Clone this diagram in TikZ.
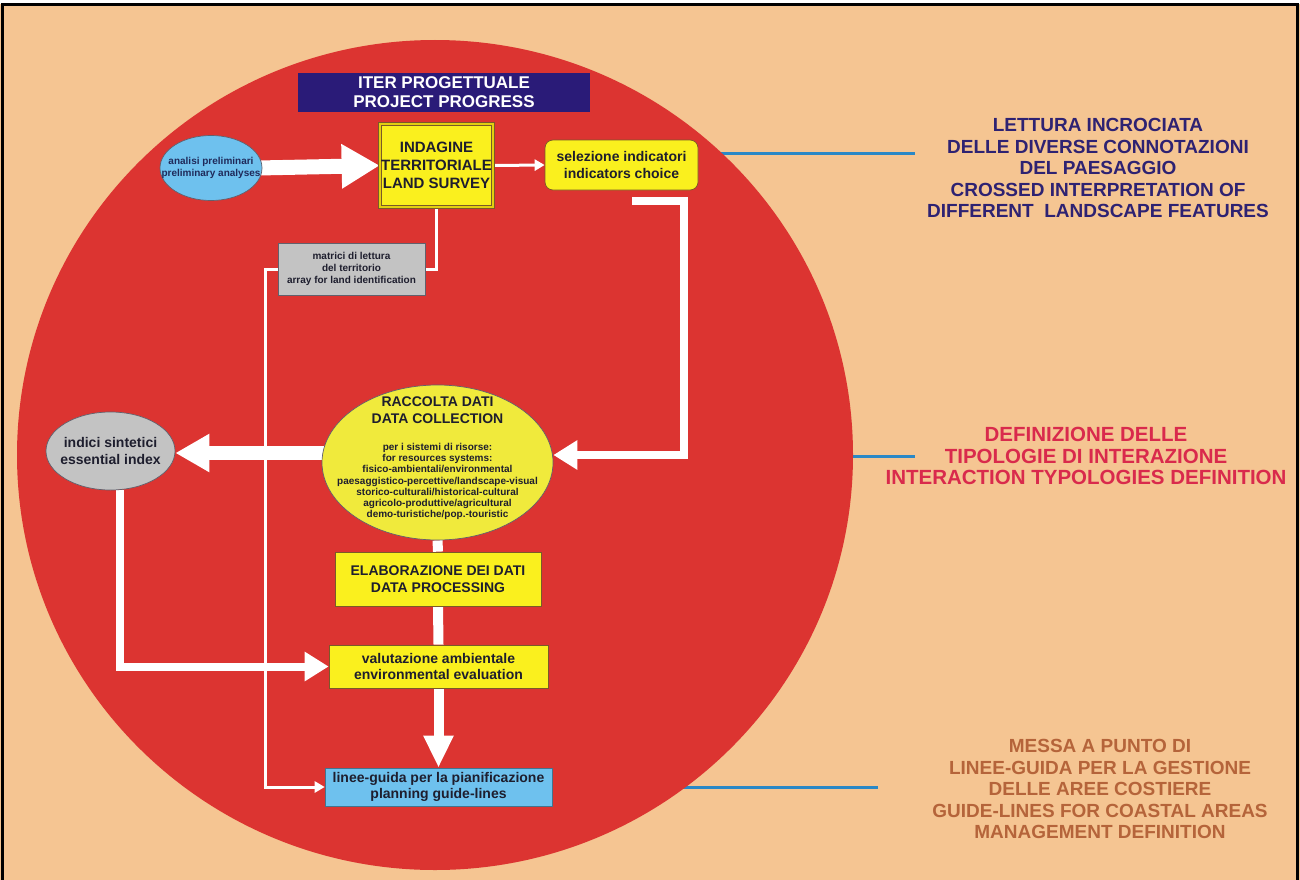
\documentclass[tikz,border=0pt]{standalone}
\usepackage{fontspec}
\setmainfont{Liberation Sans}
\usetikzlibrary{arrows.meta,shapes.geometric}
\pgfdeclarelayer{back}
\pgfsetlayers{back,main}
\definecolor{bgc}{HTML}{F5C592}
\definecolor{disc}{HTML}{DC3431}
\definecolor{navy}{HTML}{2A1B78}
\definecolor{skyb}{HTML}{6EC1EE}
\definecolor{yel}{HTML}{FAF01E}
\definecolor{yeldark}{HTML}{E2CF10}
\definecolor{yelpale}{HTML}{F0EA3C}
\definecolor{greyb}{HTML}{C3C3C3}
\definecolor{ink}{HTML}{1E1E2E}
\definecolor{darkblue}{HTML}{1F2A5A}
\definecolor{edge}{HTML}{7A5A28}
\definecolor{tnavy}{HTML}{2E2272}
\definecolor{tred}{HTML}{D92A4C}
\definecolor{tbrown}{HTML}{B5643A}
\definecolor{bluel}{HTML}{2A88C6}
\begin{document}
\begin{tikzpicture}[x=1pt,y=-1pt,
  every node/.style={inner sep=0pt, align=center, text=ink},
  ftitle/.style={font=\bfseries\fontsize{14}{16.5}\selectfont},
  fsmall/.style={font=\bfseries\fontsize{10}{11.2}\selectfont},
  ftiny/.style={font=\bfseries\fontsize{10}{12}\selectfont},
  fright/.style={font=\bfseries\fontsize{19}{21.5}\selectfont},
  ybox/.style={rectangle, fill=yel, draw=edge, line width=0.7pt, ftitle},
  oval/.style={ellipse, draw=ink!70, line width=0.7pt},
  wthin/.style={draw=white, line width=3pt},
  wthinarr/.style={wthin, -{Triangle[width=11pt,length=10pt]}},
  bigarr/.style={draw=white, line width=15pt, -{Triangle[width=42pt,length=38pt]}},
  leftarr/.style={draw=white, line width=14pt, -{Triangle[width=36pt,length=34pt]}},
  medarr/.style={draw=white, line width=8pt, -{Triangle[width=28pt,length=24pt]}},
  vbar/.style={draw=white, line width=10pt},
  downarr/.style={draw=white, line width=10pt, -{Triangle[width=28pt,length=32pt]}},
  bluelink/.style={draw=bluel, line width=3pt}
]
\useasboundingbox (0,0) rectangle (1300,880);
\begin{pgfonlayer}{back}
  \fill[white] (0,0) rectangle (1300,880);
  \fill[bgc] (0,4) rectangle (1300,880);
  \coordinate (b1a) at (680,153);
  \coordinate (b1b) at (915,153);
  \coordinate (b2a) at (830,456);
  \coordinate (b2b) at (915,456);
  \coordinate (b3a) at (640,787);
  \coordinate (b3b) at (878,787);
  \draw[bluelink] (b1a) -- (b1b);
  \draw[bluelink] (b2a) -- (b2b);
  \draw[bluelink] (b3a) -- (b3b);
  \fill[disc] (435,455) ellipse [x radius=418, y radius=415];
\end{pgfonlayer}

% nodes
\node[fill=navy, minimum width=292pt, minimum height=39pt, text=white,
      font=\bfseries\fontsize{17}{19}\selectfont] (title) at (444,92.5)
      {ITER PROGETTUALE\\PROJECT PROGRESS};
\node[oval, fill=skyb, minimum width=102pt, minimum height=65pt,
      label={[ftiny, text=darkblue]center:analisi preliminari\\preliminary analyses}] (anal) at (211,168) {};
\node[ybox, minimum width=113pt, minimum height=83pt, double=yeldark, double distance=2.2pt,
      font=\bfseries\fontsize{15}{18}\selectfont] (indg) at (436.5,165.5)
      {INDAGINE\\TERRITORIALE\\LAND SURVEY};
\node[ybox, rounded corners=8pt, minimum width=153pt, minimum height=50pt] (sel) at (621.5,165)
      {selezione indicatori\\indicators choice};
\node[rectangle, fill=greyb, draw=ink!70, line width=0.7pt, minimum width=147pt, minimum height=52pt, fsmall,
      font=\bfseries\fontsize{10}{12}\selectfont] (mat) at (351.5,269)
      {matrici di lettura\\del territorio\\array for land identification};
\node[oval, fill=yelpale, minimum width=231pt, minimum height=155pt] (racc) at (437.5,462.5) {};
\node[ftitle] (racct) at (437.5,410) {RACCOLTA DATI\\DATA COLLECTION};
\node[fsmall] (raccl) at (437.5,481.5) {per i sistemi di risorse:\\for resources systems:\\fisico-ambientali/environmental\\paesaggistico-percettive/landscape-visual\\storico-culturali/historical-cultural\\agricolo-produttive/agricultural\\demo-turistiche/pop.-touristic};
\node[oval, fill=greyb, minimum width=129pt, minimum height=78pt,
      label={[ftitle]center:indici sintetici\\essential index}] (indc) at (110.5,451) {};
\node[ybox, minimum width=206pt, minimum height=54pt] (elab) at (438,579)
      {ELABORAZIONE DEI DATI\\DATA PROCESSING};
\node[ybox, minimum width=219pt, minimum height=43pt] (valu) at (438.5,666.5)
      {valutazione ambientale\\environmental evaluation};
\node[rectangle, fill=skyb, draw=skyb!60!black, line width=0.6pt, minimum width=227pt, minimum height=38pt, ftitle] (ling) at (438.5,787)
      {linee-guida per la pianificazione\\planning guide-lines};

% right texts
\node[fright, text=tnavy] (t1) at (1098,168)
      {LETTURA INCROCIATA\\DELLE DIVERSE CONNOTAZIONI\\DEL PAESAGGIO\\CROSSED INTERPRETATION OF\\DIFFERENT\ \ LANDSCAPE FEATURES};
\node[fright, text=tred, font=\bfseries\fontsize{20.5}{21.5}\selectfont] (t2) at (1086,456)
      {DEFINIZIONE DELLE\\TIPOLOGIE DI INTERAZIONE\\INTERACTION TYPOLOGIES DEFINITION};
\node[fright, text=tbrown] (t3) at (1100,789)
      {MESSA A PUNTO DI\\LINEE-GUIDA PER LA GESTIONE\\DELLE AREE COSTIERE\\GUIDE-LINES FOR COASTAL AREAS\\MANAGEMENT DEFINITION};

% connectors
\coordinate (sA) at (632,201);
\coordinate (sB) at (684,201);
\coordinate (sC) at (684,455);
\coordinate (rL) at (322,453);
\coordinate (mL) at (265,269);
\begin{pgfonlayer}{back}
  \draw[bigarr] ([xshift=-4pt]anal.east) -- (indg.west);
  \draw[wthinarr] (indg.east) -- (sel.west);
  \draw[medarr] (sA) -- (sB) -- (sC) -- (racc.east |- sC);
  \draw[wthin] (indg.south) |- (mat.east);
  \draw[wthinarr] (mat.west) -- (mL) |- (ling.west);
  \draw[leftarr] ([xshift=4pt]rL) -- (indc.east |- rL);
  \draw[medarr] ([xshift=9pt]indc.south) |- (valu.west);
  \draw[vbar] (racc.south) -- (elab.north);
  \draw[vbar] (elab.south) -- (valu.north);
  \draw[downarr] (valu.south) -- (ling.north);
\end{pgfonlayer}

\draw[black, line width=3pt] (2.5,880) -- (2.5,4.5) -- (1297.5,4.5) -- (1297.5,880);
\end{tikzpicture}
\end{document}
